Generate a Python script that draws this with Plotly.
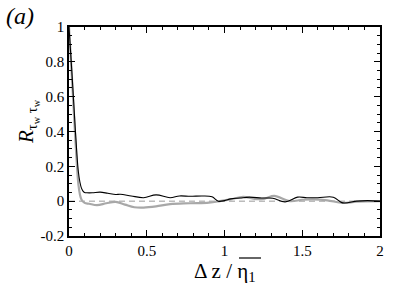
import plotly.graph_objects as go

# Black curve
x_black = [0, 0.01, 0.02, 0.03, 0.04, 0.05, 0.06, 0.07, 0.08, 0.09, 0.1, 0.115, 0.15, 0.2, 0.25,
           0.3, 0.33, 0.4, 0.48, 0.56, 0.65, 0.71, 0.78, 0.86, 0.92, 0.96, 1.0, 1.04, 1.1, 1.16,
           1.24, 1.31, 1.39, 1.47, 1.53, 1.6, 1.7, 1.76, 1.85, 1.92, 2.0]
y_black = [1.0, 0.86, 0.72, 0.57, 0.42, 0.28, 0.17, 0.11, 0.075, 0.058, 0.05, 0.048, 0.048, 0.052, 0.045,
           0.038, 0.04, 0.03, 0.02, 0.036, 0.02, 0.03, 0.028, 0.03, 0.025, 0.0, 0.003, 0.013, 0.018, 0.023,
           0.018, 0.017, -0.004, 0.023, 0.02, 0.02, 0.023, -0.01, 0.0, 0.003, 0.0]

# Gray curve
x_gray = [0, 0.01, 0.02, 0.03, 0.04, 0.05, 0.06, 0.07, 0.08, 0.1, 0.13, 0.18, 0.24, 0.3, 0.36,
          0.42, 0.48, 0.56, 0.65, 0.78, 0.9, 0.97, 1.04, 1.12, 1.2, 1.26, 1.32, 1.42, 1.5,
          1.57, 1.66, 1.76, 1.85, 2.0]
y_gray = [1.0, 0.85, 0.69, 0.53, 0.37, 0.22, 0.1, 0.04, 0.01, -0.01, -0.015, -0.023, -0.012, -0.004, -0.02,
          -0.035, -0.037, -0.03, -0.017, -0.012, -0.008, 0.0, 0.01, 0.025, 0.012, 0.015, 0.03, 0.0, 0.008,
          0.01, 0.005, -0.01, -0.003, 0.0]

x_zero = [0, 2]
y_zero = [0, 0]

y_tickvals = [-0.2, 0, 0.2, 0.4, 0.6, 0.8, 1]
y_ticktext = ["-0.2", "0", "0.2", "0.4", "0.6", "0.8", "1"]
x_tickvals = [0, 0.5, 1, 1.5, 2]
x_ticktext = ["0", "0.5", "1", "1.5", "2"]

serif = "'Liberation Serif', 'DejaVu Serif', serif"

W, H = 407, 291
L, R, T, B = 69, 27, 27, 55
PW, PH = W - L - R, H - T - B


def px_x(px):
    return (px - L) / PW


def px_y(py):
    return (H - B - py) / PH


fig = go.Figure()
fig.add_trace(go.Scatter(x=x_zero, y=y_zero, mode="lines",
                         line=dict(color="#999999", width=1, dash="6px,4px"), showlegend=False))
fig.add_trace(go.Scatter(x=x_gray, y=y_gray, mode="lines", line_shape="spline",
                         line=dict(color="#a8a8a8", width=2.2), showlegend=False))
fig.add_trace(go.Scatter(x=x_black, y=y_black, mode="lines", line_shape="spline",
                         line=dict(color="black", width=1.1), showlegend=False))

axis_common = dict(showgrid=False, zeroline=False, showline=True, linecolor="black", linewidth=1.5,
                   mirror="allticks", ticks="inside", tickcolor="black", tickwidth=1,
                   tickfont=dict(family=serif, size=15, color="black"))

fig.update_xaxes(range=[0, 2], tickmode="array", tickvals=x_tickvals, ticktext=x_ticktext, ticklen=6,
                 minor=dict(tickmode="linear", tick0=0, dtick=0.1, ticks="inside", ticklen=3,
                            tickcolor="black", tickwidth=1, showgrid=False),
                 **axis_common)
fig.update_yaxes(range=[-0.2, 1], tickmode="array", tickvals=y_tickvals, ticktext=y_ticktext, ticklen=6,
                 minor=dict(tickmode="linear", tick0=0, dtick=0.05, ticks="inside", ticklen=3,
                            tickcolor="black", tickwidth=1, showgrid=False),
                 **axis_common)

fig.update_layout(
    width=W, height=H,
    margin=dict(l=L, r=R, t=T, b=B),
    paper_bgcolor="white", plot_bgcolor="white",
    font=dict(family=serif, color="black"),
    annotations=[
        dict(text="<i>(a)</i>", x=px_x(4), y=px_y(1), xref="paper", yref="paper", showarrow=False,
             xanchor="left", yanchor="top", font=dict(size=24, family=serif)),
        dict(text="<i>R</i><sub>τ<sub>w</sub> τ<sub>w</sub></sub>", textangle=-90,
             xref="paper", yref="paper", x=px_x(28), y=px_y(122), showarrow=False,
             xanchor="center", yanchor="middle", font=dict(size=21, family=serif)),
        dict(text="Δ z / η<sub>1</sub>", xref="paper", yref="paper", x=px_x(225), y=px_y(272),
             showarrow=False, xanchor="center", yanchor="middle", font=dict(size=21, family=serif)),
    ],
)
# overline above eta_1
fig.add_shape(type="line", xref="paper", yref="paper", x0=px_x(239), x1=px_x(261),
              y0=px_y(258), y1=px_y(258), line=dict(color="#333333", width=1.5))

fig.write_html("out.html", config={"displayModeBar": False},
               post_script="document.body.style.margin='0';")
